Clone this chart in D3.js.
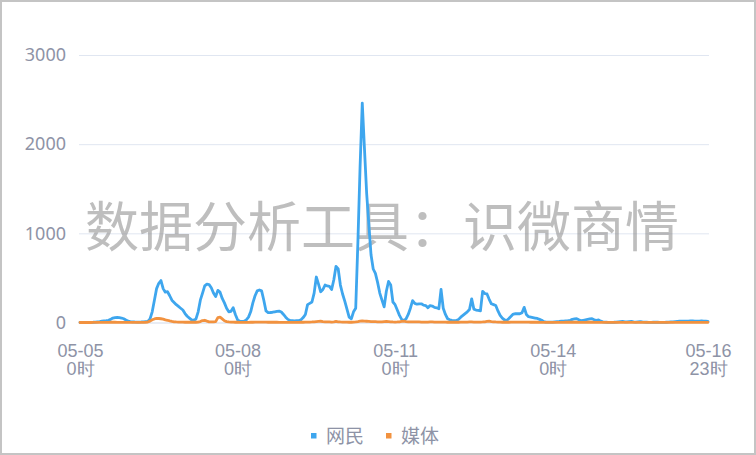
<!DOCTYPE html>
<html>
<head>
<meta charset="utf-8">
<script src="https://cdn.jsdelivr.net/npm/d3@7"></script>
<style>
  html, body { margin: 0; padding: 0; background: #fff; }
  svg { display: block; font-family: "Noto Sans CJK SC", "Noto Sans", sans-serif; }
</style>
</head>
<body>
<svg id="chart" width="756" height="455"></svg>
<script>
// ---- data ----
const seriesNames = ["网民", "媒体"];
const seriesColors = ["#3ea6ee", "#f2923f"];
const yTickValues = [0, 1000, 2000, 3000];
const xTickHours = [0, 72, 144, 216, 287];
const xTickDates = ["05-05", "05-08", "05-11", "05-14", "05-16"];
const xTickTimes = ["0时", "0时", "0时", "0时", "23时"];
const watermark = "数据分析工具：识微商情";

// hourly values 05-05 0时 .. 05-16 23时
const netizens = [
  0,0,0,1,1,2,3,5,8,10,15,18,20,25,35,50,55,56,55,50,42,28,15,10,
  8,6,5,5,6,8,10,12,40,120,250,380,440,470,380,340,345,300,250,225,200,180,160,140,
  100,70,50,30,25,40,120,250,330,410,430,425,390,330,290,360,340,270,220,160,120,125,165,90,
  30,15,12,15,30,60,120,220,300,355,365,355,250,130,110,112,115,120,125,128,118,90,60,35,
  22,20,18,20,22,30,55,90,200,215,230,330,510,430,345,370,420,410,405,370,480,630,600,420,
  320,240,150,60,42,120,160,900,1750,2460,1950,1450,1100,760,600,550,450,330,250,175,350,460,420,230,
  200,140,80,35,22,40,90,160,245,215,205,210,210,195,190,165,190,185,170,165,155,370,160,90,
  42,30,25,22,22,35,60,80,100,120,145,265,150,140,135,130,350,325,320,260,210,200,190,130,
  80,50,30,22,45,70,95,98,100,98,110,170,90,65,60,55,50,45,35,25,10,5,4,5,
  5,8,10,12,15,15,18,20,25,35,40,42,30,20,25,30,35,40,42,30,25,28,15,8,
  5,3,2,2,3,5,8,10,12,8,6,10,12,8,5,8,10,6,4,3,2,2,3,4,
  3,2,2,2,3,4,6,8,10,12,14,15,15,14,16,18,17,15,15,16,18,15,14,12
];
const media = [
  0,0,0,0,0,0,1,1,1,1,2,2,2,2,3,3,3,2,2,2,2,1,1,1,
  1,1,1,1,1,2,3,5,15,30,40,45,45,42,38,30,25,18,12,8,6,5,4,4,
  3,3,3,3,3,3,5,10,22,25,15,8,6,8,10,55,60,40,20,10,6,5,4,3,
  3,2,2,2,2,2,3,3,4,5,5,5,4,4,3,3,3,3,3,2,2,2,2,2,
  2,2,2,2,2,3,3,4,5,5,6,8,10,12,14,10,8,6,6,5,8,12,8,6,
  5,4,4,3,3,4,6,10,15,18,16,14,12,10,10,9,8,8,8,10,12,10,8,6,
  5,6,8,12,15,10,8,6,6,6,6,6,5,5,5,5,6,6,5,5,5,4,4,4,
  3,3,3,3,3,3,4,4,5,5,6,6,5,5,5,5,6,8,12,15,10,8,6,5,
  4,3,3,3,3,4,4,4,5,5,5,4,4,4,3,3,3,3,2,2,2,2,2,2,
  2,2,2,2,2,2,3,3,3,3,3,3,2,2,2,2,3,3,3,2,2,2,2,2,
  1,1,1,1,1,1,2,2,2,2,2,2,2,2,2,1,1,1,1,1,1,1,1,1,
  1,1,1,1,1,1,2,2,2,2,2,2,2,2,2,2,2,2,2,2,2,2,2,2
];
const allSeries = [netizens, media];

// ---- layout ----
const svg = d3.select("#chart");
const W = 756, H = 455;
const plotLeft = 80, plotRight = 708, plotTop = 55, plotBottom = 322.5;
const labelColor = "#8e93a6";

const x = d3.scaleLinear().domain([0, 287]).range([plotLeft, plotRight]);
const y = d3.scaleLinear().domain([0, 3000]).range([plotBottom, plotTop]);

// border
svg.append("rect").attr("x", 1).attr("y", 1).attr("width", W - 2).attr("height", H - 2)
  .attr("fill", "#fff").attr("stroke", "#c4c4c4").attr("stroke-width", 2);

// y axis with gridlines
const yAxis = svg.append("g").attr("transform", `translate(${plotLeft - 1},0)`)
  .call(d3.axisLeft(y).tickValues(yTickValues).tickSize(-(plotRight - plotLeft + 2)).tickPadding(13).tickFormat(d3.format("d")));
yAxis.select(".domain").remove();
yAxis.selectAll(".tick line").attr("stroke", "#e0e6f1").attr("stroke-width", 1);
yAxis.selectAll(".tick text").attr("fill", labelColor).attr("font-size", 18)
  .attr("font-family", "'Noto Sans', 'Noto Sans CJK SC', sans-serif");

// x axis
const xAxis = svg.append("g").attr("transform", `translate(0,${plotBottom})`)
  .call(d3.axisBottom(x).tickValues(xTickHours).tickSize(0).tickFormat(() => ""));
xAxis.select(".domain").attr("stroke", "#e0e6f1");
xAxis.selectAll(".tick text").each(function(d, i) {
  const t = d3.select(this).attr("fill", labelColor).attr("font-size", 18).attr("y", 0).attr("dy", null);
  t.append("tspan").attr("x", 0).attr("y", 34).text(xTickDates[i]);
  t.append("tspan").attr("x", 0).attr("y", 52).text(xTickTimes[i]);
});

// watermark
svg.append("text").attr("x", 382).attr("y", 247).attr("text-anchor", "middle")
  .attr("font-size", 54).attr("fill", "#888").attr("fill-opacity", 0.55)
  .attr("font-family", "'Noto Sans CJK SC', sans-serif")
  .text(watermark);

// lines
const line = d3.line().x((d, i) => x(i)).y(d => y(d)).curve(d3.curveLinear);
[0, 1].forEach(k => {
  svg.append("path").datum(allSeries[k])
    .attr("fill", "none").attr("stroke", seriesColors[k])
    .attr("stroke-width", 2.8).attr("stroke-linejoin", "round").attr("stroke-linecap", "round")
    .attr("d", line);
});

// legend
const legendItems = [{ sx: 311, tx: 326 }, { sx: 386, tx: 401 }];
legendItems.forEach((p, i) => {
  svg.append("rect").attr("x", p.sx).attr("y", 433).attr("width", 5.5).attr("height", 5.5)
    .attr("fill", seriesColors[i]);
  svg.append("text").attr("x", p.tx).attr("y", 443).attr("font-size", 19)
    .attr("fill", labelColor).text(seriesNames[i]);
});
</script>
</body>
</html>
